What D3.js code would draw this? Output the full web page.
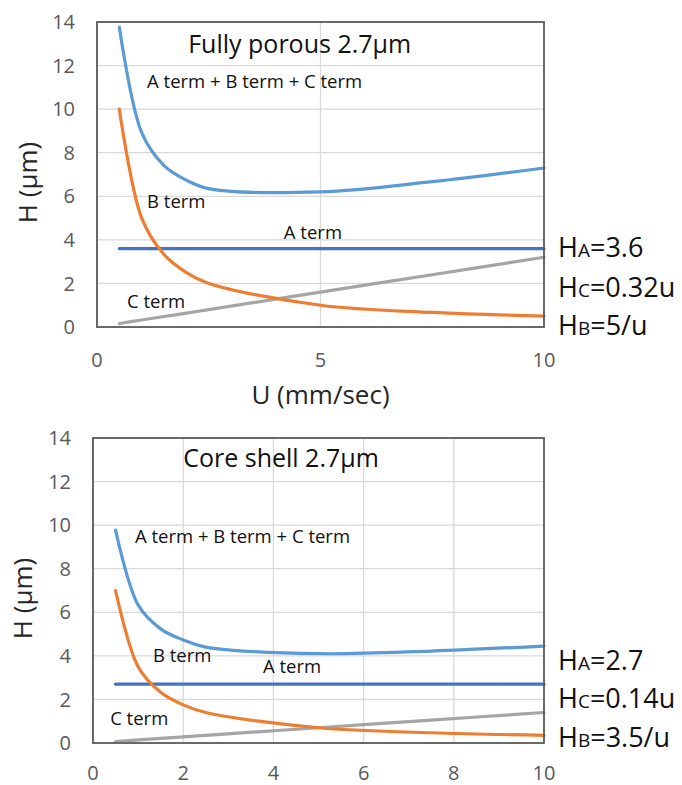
<!DOCTYPE html>
<html>
<head>
<meta charset="utf-8">
<script src="https://cdn.jsdelivr.net/npm/d3@7"></script>
<style>
  body { margin: 0; background: #fff; }
  text { font-family: "Open Sans", "Noto Sans", sans-serif; }
</style>
</head>
<body>
<svg id="svg" width="682" height="785"></svg>
<script>
// velocities (mm/sec) used for every series
var uValues = [0.5, 1, 1.5, 2, 2.5, 5, 7.5, 10];

// fully porous 2.7um
var porousA = [3.6, 3.6, 3.6, 3.6, 3.6, 3.6, 3.6, 3.6];
var porousB = [10, 5, 3.33, 2.5, 2, 1, 0.67, 0.5];
var porousC = [0.16, 0.32, 0.48, 0.64, 0.8, 1.6, 2.4, 3.2];
var porousTotal = [13.76, 8.92, 7.41, 6.74, 6.35, 6.2, 6.67, 7.3];

// core shell 2.7um
var coreA = [2.7, 2.7, 2.7, 2.7, 2.7, 2.7, 2.7, 2.7];
var coreB = [7, 3.5, 2.33, 1.75, 1.4, 0.7, 0.47, 0.35];
var coreC = [0.07, 0.14, 0.21, 0.28, 0.35, 0.7, 1.05, 1.4];
var coreTotal = [9.77, 6.34, 5.24, 4.73, 4.4, 4.1, 4.22, 4.45];

var yTicks = [0, 2, 4, 6, 8, 10, 12, 14];
var porousXTicks = [0, 5, 10];
var coreXTicks = [0, 2, 4, 6, 8, 10];

var colors = { total: "#5b9bd5", A: "#4472c4", B: "#ed7d31", C: "#a5a5a5" };

function drawPanel(svg, p) {
  var x = d3.scaleLinear().domain([0, 10]).range([p.left, p.right]);
  var y = d3.scaleLinear().domain([0, 14]).range([p.bottom, p.top]);
  var g = svg.append("g");

  // grid
  g.selectAll("line.hgrid").data(yTicks.slice(1, -1)).enter().append("line")
    .attr("x1", p.left).attr("x2", p.right)
    .attr("y1", d => y(d)).attr("y2", d => y(d))
    .attr("stroke", "#d9d9d9").attr("stroke-width", 1.3);
  g.selectAll("line.vgrid").data(p.xTicks.slice(1, -1)).enter().append("line")
    .attr("y1", p.top).attr("y2", p.bottom)
    .attr("x1", d => x(d)).attr("x2", d => x(d))
    .attr("stroke", "#d9d9d9").attr("stroke-width", 1.3);

  // series
  var line = d3.line()
    .x((d, i) => x(uValues[i]))
    .y(d => y(d))
    .curve(d3.curveCatmullRom.alpha(0.5));
  p.series.forEach(function(s) {
    g.append("path")
      .attr("d", line(s.values))
      .attr("fill", "none")
      .attr("stroke", s.color)
      .attr("stroke-width", 3.2)
      .attr("stroke-linecap", "round");
  });

  // frame
  g.append("rect")
    .attr("x", p.left).attr("y", p.top)
    .attr("width", p.right - p.left).attr("height", p.bottom - p.top)
    .attr("fill", "none").attr("stroke", "#595959").attr("stroke-width", 1.8);

  // tick labels
  g.selectAll("text.ytick").data(yTicks).enter().append("text")
    .attr("x", p.left - 22).attr("y", d => y(d))
    .attr("dy", "0.36em")
    .attr("text-anchor", "end")
    .attr("font-size", 20).attr("fill", "#595959")
    .text(d => d);
  g.selectAll("text.xtick").data(p.xTicks).enter().append("text")
    .attr("x", d => x(d)).attr("y", p.bottom + p.xTickGap)
    .attr("dy", "0.36em")
    .attr("text-anchor", "middle")
    .attr("font-size", 20).attr("fill", "#595959")
    .text(d => d);

  // axis titles
  g.append("text")
    .attr("transform", "translate(" + p.yTitleX + "," + ((p.top + p.bottom) / 2 + 8) + ") rotate(-90)")
    .attr("text-anchor", "middle").attr("dy", "0.36em")
    .attr("font-size", 26).attr("fill", "#262626")
    .text("H (µm)");
  if (p.xTitle) {
    g.append("text")
      .attr("x", (p.left + p.right) / 2).attr("y", p.bottom + 77)
      .attr("text-anchor", "middle")
      .attr("font-size", 26).attr("fill", "#262626")
      .text(p.xTitle);
  }

  // in-plot notes
  p.notes.forEach(function(n) {
    g.append("text")
      .attr("x", x(n.u)).attr("y", y(n.h))
      .attr("font-size", n.size).attr("fill", "#111")
      .text(n.text);
  });

  // equations at right
  p.eqs.forEach(function(e) {
    var t = g.append("text")
      .attr("x", p.right + 14).attr("y", e.y)
      .attr("font-size", 27).attr("fill", "#111");
    t.append("tspan").text("H");
    t.append("tspan").attr("font-size", 19).text(e.sub);
    t.append("tspan").text(e.rest);
  });
}

var svg = d3.select("#svg");
svg.append("rect").attr("width", 682).attr("height", 785).attr("fill", "#fff");

drawPanel(svg, {
  left: 97, right: 544, top: 22, bottom: 327,
  xTicks: porousXTicks, xTickGap: 33, yTitleX: 28, xTitle: "U (mm/sec)",
  series: [
    { values: porousC, color: colors.C },
    { values: porousA, color: colors.A },
    { values: porousB, color: colors.B },
    { values: porousTotal, color: colors.total }
  ],
  notes: [
    { text: "Fully porous 2.7µm", u: 2.04, h: 12.57, size: 25 },
    { text: "A term + B term + C term", u: 1.12, h: 10.96, size: 18.5 },
    { text: "B term", u: 1.12, h: 5.46, size: 18.5 },
    { text: "A term", u: 4.18, h: 4.04, size: 18.5 },
    { text: "C term", u: 0.67, h: 0.87, size: 18.5 }
  ],
  eqs: [
    { sub: "A", rest: "=3.6", y: 257 },
    { sub: "C", rest: "=0.32u", y: 297 },
    { sub: "B", rest: "=5/u", y: 335 }
  ]
});

drawPanel(svg, {
  left: 93, right: 544, top: 438, bottom: 743,
  xTicks: coreXTicks, xTickGap: 30, yTitleX: 23, xTitle: null,
  series: [
    { values: coreC, color: colors.C },
    { values: coreA, color: colors.A },
    { values: coreB, color: colors.B },
    { values: coreTotal, color: colors.total }
  ],
  notes: [
    { text: "Core shell 2.7µm", u: 2.0, h: 12.66, size: 25 },
    { text: "A term + B term + C term", u: 0.93, h: 9.17, size: 18.5 },
    { text: "B term", u: 1.33, h: 3.72, size: 18.5 },
    { text: "A term", u: 3.77, h: 3.21, size: 18.5 },
    { text: "C term", u: 0.38, h: 0.83, size: 18.5 }
  ],
  eqs: [
    { sub: "A", rest: "=2.7", y: 670 },
    { sub: "C", rest: "=0.14u", y: 708 },
    { sub: "B", rest: "=3.5/u", y: 747 }
  ]
});
</script>
</body>
</html>
